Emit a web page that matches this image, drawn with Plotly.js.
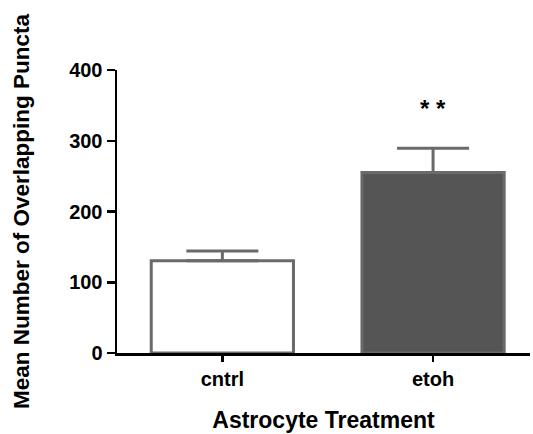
<!DOCTYPE html>
<html>
<head>
<meta charset="utf-8">
<script src="https://cdn.plot.ly/plotly-3.0.1.min.js"></script>
<style>html,body{margin:0;padding:0;background:#fff;}#chart{width:533px;height:434px;}</style>
</head>
<body>
<div id="chart"></div>
<script>
const categories = ["cntrl", "etoh"];
const means = [130.5, 255];
const sem = [13.5, 34.5];
const fills = ["#ffffff", "#555555"];
const significance = ["", "* *"];
const yTicks = [0, 100, 200, 300, 400];

const font = "Liberation Sans, Arial, sans-serif";

const trace = {
  type: "bar",
  x: categories,
  y: means,
  width: 0.675,
  marker: { color: fills, line: { color: "#6a6a6a", width: 3 } },
  error_y: {
    type: "data",
    symmetric: false,
    array: sem,
    arrayminus: sem.map(() => 0),
    color: "#6a6a6a",
    thickness: 3,
    width: 36
  },
  hoverinfo: "none"
};

const annotations = categories.map((c, i) => ({
  x: c, y: means[i] + sem[i] + 56, xref: "x", yref: "y",
  text: significance[i], showarrow: false,
  font: { family: font, size: 24, color: "#000", weight: "bold" }
})).filter(a => a.text);

const layout = {
  width: 533, height: 434,
  margin: { l: 117, r: 3, t: 70, b: 81 },
  paper_bgcolor: "#fff", plot_bgcolor: "#fff",
  showlegend: false,
  xaxis: {
    type: "category",
    range: [-0.5, 1.46],
    showline: true, linecolor: "#000", linewidth: 2.5,
    ticks: "outside", ticklen: 6, tickwidth: 2.5, tickcolor: "#000",
    showgrid: false, zeroline: false,
    tickfont: { family: font, size: 20, color: "#000", weight: "bold" },
    title: { text: "<b>Astrocyte Treatment</b>", font: { family: font, size: 23, color: "#000" }, standoff: 24 }
  },
  yaxis: {
    range: [0, 400],
    tickvals: yTicks,
    showline: true, linecolor: "#000", linewidth: 2.5,
    ticks: "outside", ticklen: 8, tickwidth: 2.5, tickcolor: "#000",
    showgrid: false, zeroline: false,
    tickfont: { family: font, size: 20, color: "#000", weight: "bold" },
    title: { text: "<b>Mean Number of Overlapping Puncta</b>", font: { family: font, size: 22.5, color: "#000" }, standoff: 34 }
  },
  annotations: annotations
};

Plotly.newPlot("chart", [trace], layout, { displayModeBar: false, staticPlot: true });
</script>
</body>
</html>
